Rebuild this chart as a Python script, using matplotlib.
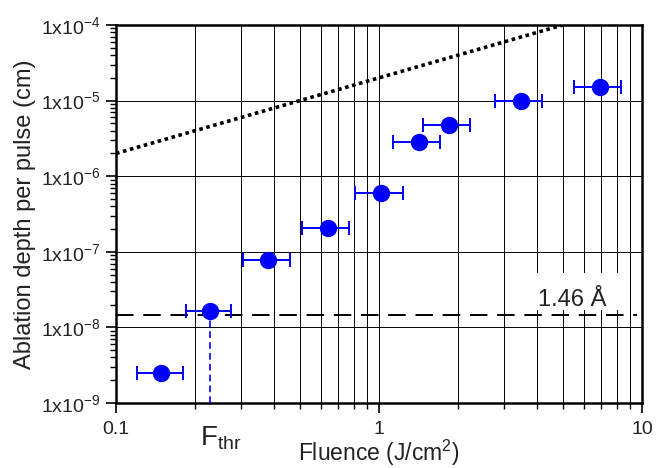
import numpy as np
import matplotlib
matplotlib.use('Agg')
import matplotlib.pyplot as plt
from matplotlib.patches import Rectangle
from matplotlib.ticker import LogLocator, FuncFormatter, NullFormatter

plt.rcParams['font.family'] = 'Liberation Sans'
plt.rcParams['mathtext.fontset'] = 'custom'
plt.rcParams['mathtext.rm'] = 'Liberation Sans'
plt.rcParams['mathtext.it'] = 'Liberation Sans:italic'
plt.rcParams['mathtext.bf'] = 'Liberation Sans:bold'

# data
fluence = [0.148, 0.228, 0.379, 0.64, 1.02, 1.42, 1.85, 3.46, 6.94]
fluence_lo = [0.12, 0.184, 0.304, 0.51, 0.81, 1.13, 1.47, 2.75, 5.5]
fluence_hi = [0.18, 0.274, 0.458, 0.77, 1.23, 1.71, 2.22, 4.15, 8.3]
depth = [2.5e-9, 1.65e-8, 7.8e-8, 2.07e-7, 6.05e-7, 2.86e-6, 4.75e-6, 9.9e-6, 1.53e-5]

line_x = [0.1, 5.0]
line_y = [2e-6, 1e-4]

lattice = 1.46e-8   # 1.46 A in cm
f_thr = 0.228

fluence = np.array(fluence)
depth = np.array(depth)
xerr = [fluence - np.array(fluence_lo), np.array(fluence_hi) - fluence]

fig = plt.figure(figsize=(6.68, 4.68), dpi=100)
ax = fig.add_axes([116/668, 65/468, 526/668, 378/468])

ax.set_xscale('log')
ax.set_yscale('log')
ax.set_xlim(0.1, 10)
ax.set_ylim(1e-9, 1e-4)

ax.plot(line_x, line_y, color='black', linestyle=(0, (1, 1)), linewidth=2.6, zorder=3)

ax.axhline(lattice, xmin=0, xmax=0.99, color='black', linestyle=(0, (9, 5)), linewidth=1.4, zorder=4)
ax.plot([f_thr, f_thr], [1e-9, depth[1]], color='blue', linestyle=(0, (4, 2.5)), linewidth=1.2, zorder=3)

ax.errorbar(fluence, depth, xerr=xerr, fmt='o', color='blue', markersize=11.5,
            elinewidth=1.4, capsize=5, capthick=1.4, zorder=5)

# white patch behind the 1.46 A label, hides the grid there
ax.add_patch(Rectangle((3.29, 1.70e-8), 8.6 - 3.29, 5.24e-8 - 1.70e-8,
                       facecolor='white', edgecolor='none', zorder=1))
ax.text(4.02, 1.92e-8, '1.46 Å', fontsize=17, color='#222222', ha='left', va='baseline', zorder=3.5)

ax.text(0.2086, -0.058, r'F$_{\mathregular{thr}}$', fontsize=20, ha='left', va='top',
        transform=ax.get_xaxis_transform(), color='#222222')

# ticks and grid
ax.xaxis.set_major_locator(LogLocator(base=10))
ax.xaxis.set_minor_locator(LogLocator(base=10, subs=np.arange(2, 10)))
ax.xaxis.set_minor_formatter(NullFormatter())
ax.xaxis.set_major_formatter(FuncFormatter(lambda v, p: '%g' % v))
ax.yaxis.set_major_locator(LogLocator(base=10))
ax.yaxis.set_minor_locator(LogLocator(base=10, subs=np.arange(2, 10)))
ax.yaxis.set_minor_formatter(NullFormatter())
ax.yaxis.set_major_formatter(FuncFormatter(
    lambda v, p: r'1x10$^{\mathregular{%d}}$' % int(round(np.log10(v)))))

ax.grid(True, which='both', axis='x', color='black', linewidth=0.7)
ax.grid(True, which='major', axis='y', color='black', linewidth=0.7)
ax.set_axisbelow(True)

ax.tick_params(which='major', direction='out', length=7, width=1.2, labelsize=14, colors='black',
               labelcolor='#222222')
ax.tick_params(which='minor', direction='out', length=4, width=1.0)
ax.tick_params(axis='x', which='major', pad=6)
ax.tick_params(axis='y', which='major', pad=4)

for s in ax.spines.values():
    s.set_linewidth(1.8)

ax.set_xlabel('Fluence (J/cm$^{\mathregular{2}}$)', fontsize=16.5, color='#222222', labelpad=-0.5)
ax.set_ylabel('Ablation depth per pulse (cm)', fontsize=17, color='#222222', labelpad=4)

fig.savefig('out.png', dpi=100)
